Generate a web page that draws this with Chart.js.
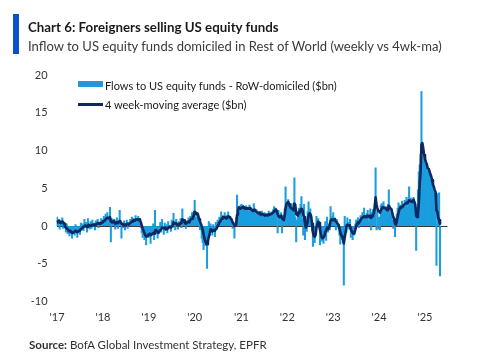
<!DOCTYPE html>
<html><head><meta charset="utf-8">
<script src="https://cdn.jsdelivr.net/npm/chart.js@4.4.1/dist/chart.umd.min.js"></script>
<style>
html,body{margin:0;padding:0;background:#fff;}
#wrap{position:relative;width:480px;height:356px;overflow:hidden;font-family:Lato,"Open Sans",sans-serif;}
#c{position:absolute;left:0;top:0;}
.accent{position:absolute;left:13px;top:14px;width:6px;height:40px;background:#0A52C9;}
.t{position:absolute;white-space:nowrap;transform-origin:left center;}
#title{left:28px;top:18px;font-size:14px;line-height:17px;font-weight:bold;color:#1a1a1a;transform:scaleX(0.95);}
#sub{left:28px;top:38px;font-size:13.5px;line-height:17px;color:#3a3a3a;transform:scaleX(0.965);}
#src{left:29px;top:338px;font-size:11.5px;line-height:14px;color:#333;}
.lg{position:absolute;left:105px;font-size:11px;line-height:13px;color:#1a1a1a;white-space:nowrap;}
.sw1{position:absolute;left:78px;top:81px;width:25px;height:6px;background:#2a92d9;border:0.5px solid #1D9BDB;box-sizing:border-box;}
.sw2{position:absolute;left:78px;top:103px;width:25px;height:2.5px;background:#0C2A61;}
</style></head>
<body>
<div id="wrap">
<canvas id="c" width="480" height="356"></canvas>
<div class="accent"></div>
<div class="t" id="title">Chart 6: Foreigners selling US equity funds</div>
<div class="t" id="sub">Inflow to US equity funds domiciled in Rest of World (weekly vs 4wk-ma)</div>
<div class="sw1"></div><div class="lg" style="top:78.5px">Flows to US equity funds - RoW-domiciled ($bn)</div>
<div class="sw2"></div><div class="lg" style="top:97.5px">4 week-moving average ($bn)</div>
<div class="t" id="src"><b>Source:</b> BofA Global Investment Strategy, EPFR</div>
</div>
<script>
// Weekly flows ($bn)
const flows2017 = [1.2,0.3,0.9,-0.4,0.8,0.5,1.1,-0.3,0.4,
 -0.2,-0.8,0.3,-1.0,-0.5,-1.3,-0.2,-0.9,-1.6,-0.4,-0.7,-1.2,0.2,-0.9,-1.5,-0.6,-0.3,-1.1,0.4,-0.5,
 0.3,-0.6,0.9,-0.2,0.5,-0.8,1.0,0.1,-0.4,0.6,-0.3,0.8,-0.1,0.4,-0.5,
 0.7,0.2,0.9,-0.2,0.5,0.3,1.0,0.4];
const flows2018 = [0.8,1.3,0.5,1.6,0.9,1.8,0.6,1.2,2.5,-2.1,1.0,0.7,
 0.2,0.9,-0.4,0.6,1.1,-0.3,0.5,2.1,0.3,-1.6,
 0.4,-0.2,0.7,-0.5,0.3,0.8,-0.3,0.5,0.1,
 0.9,0.3,1.2,0.6,1.0,0.2,1.4,0.7,0.9,1.3,0.4,0.8,-0.2,
 -0.9,-1.5,-0.4,-1.8,-1.1,-2.5,-0.7,-1.3];
const flows2019 = [-1.5,-0.6,-2.3,-0.9,-1.2,0.3,-1.8,2.1,-1.0,-0.4,-1.6,-0.7,
 -0.3,0.5,-0.8,0.9,-0.2,-1.1,0.4,-0.6,0.2,-0.9,0.6,-0.3,0.1,-0.7,0.8,-0.2,1.7,0.3,-0.5,0.9,0.2,-0.4,0.6,
 0.4,1.0,-0.2,2.3,0.5,0.1,0.9,-0.3,0.7,0.4,1.1,0.2,
 1.3,0.6,1.8,1.2,2.0];
const flows2020 = [3.4,1.2,0.8,1.5,0.3,1.0,
 -0.5,0.4,-1.6,-2.2,-3.1,-1.4,-2.6,-1.9,-5.6,
 -0.8,0.6,-1.3,0.3,-0.7,-1.2,0.2,-0.4,-1.4,0.5,-0.3,0.8,0.1,
 1.2,0.6,1.9,0.9,1.4,0.5,1.8,1.1,0.7,1.5,1.9,0.8,1.3,0.4,1.0,
 -0.3,0.5,-1.6,0.2,1.1,
 4.1,1.6,2.5,2.0,2.8];
const flows2021 = [2.9,2.1,2.6,1.8,2.4,2.7,2.0,2.5,1.9,2.8,2.2,
 1.7,2.3,1.5,3.0,2.0,1.6,2.2,1.4,1.9,1.3,
 1.6,1.2,2.0,1.4,1.1,1.8,1.3,1.7,1.0,1.5,2.0,1.2,1.6,1.9,1.4,
 2.2,2.6,1.8,2.4,1.5,-0.9,2.1,
 1.2,0.6,1.8,-0.9,1.4,0.8,2.3,
 5.2,3.1];
const flows2022 = [2.8,3.5,1.9,2.6,1.4,3.0,2.2,1.6,6.4,1.2,
 -2.1,0.8,1.5,2.4,1.8,2.9,3.9,1.0,
 -1.2,2.9,-1.8,0.6,-0.7,1.9,3.2,1.1,2.3,0.5,-0.6,
 -2.7,-1.5,-2.2,-0.3,1.3,0.4,1.0,-0.2,
 -2.5,-1.4,-2.0,-0.8,-2.3,-1.0,0.6,-1.9,1.2,-0.8,0.3,-0.5,
 2.6,0.7,1.3];
const flows2023 = [1.8,0.2,1.1,-0.5,0.9,0.4,-0.3,
 -1.2,-2.4,-0.9,-1.8,-2.2,-7.8,
 1.3,0.2,-0.8,1.1,0.5,-0.4,0.9,
 -1.5,-0.6,-1.8,-0.9,-1.2,0.3,
 0.8,0.2,1.1,-0.2,0.9,1.4,
 1.0,1.8,0.6,2.4,1.3,0.9,1.7,2.1,0.5,1.5,2.3,-0.5,1.8,
 2.2,1.4,3.0,7.7,-0.5,1.9,-0.4];
const flows2024 = [1.2,-0.5,2.8,3.0,2.1,3.2,2.4,
 1.8,2.6,1.5,2.9,4.8,2.0,1.7,2.3,
 0.8,-0.3,1.2,-1.4,0.5,1.6,
 2.4,3.1,1.9,2.8,2.2,3.3,2.6,2.9,
 3.4,2.7,3.8,2.5,3.6,5.2,3.1,
 3.7,2.9,3.5,3.8,2.6,1.4,-3.2,
 2.5,4.8,7.2,8.1,9.5,17.8,9.2,8.6,9.0];
const flows2025 = [8.2,7.5,8.0,7.1,7.6,6.8,6.2,5.9,5.4,4.6,5.0,4.1,4.4,-5.2,4.3,0.8,4.4,-6.6];

// 4-week moving average ($bn)
const ma2017 = [0.5,0.6,0.7,0.5,0.4,0.5,0.6,0.5,0.3,
 0.0,-0.2,-0.3,-0.4,-0.6,-0.7,-0.6,-0.8,-0.9,-0.8,-0.8,-0.7,-0.6,-0.7,-0.8,-0.7,-0.6,-0.5,-0.4,-0.3,
 -0.2,-0.1,0.0,0.1,0.0,-0.1,0.1,0.2,0.1,0.0,0.1,0.2,0.1,0.2,0.1,
 0.2,0.3,0.4,0.3,0.4,0.3,0.4,0.5];
const ma2018 = [0.6,0.7,0.7,0.9,1.0,1.1,1.1,1.0,1.2,0.6,0.5,0.5,
 0.7,0.6,0.3,0.4,0.5,0.4,0.5,0.7,0.6,0.3,
 0.3,0.1,0.2,0.1,0.1,0.3,0.3,0.2,0.3,
 0.4,0.5,0.6,0.7,0.8,0.7,0.8,0.9,0.9,0.8,0.9,0.8,0.5,
 0.1,-0.3,-0.6,-0.9,-1.2,-1.4,-1.3,-1.2];
const ma2019 = [-1.1,-1.0,-1.2,-1.1,-1.0,-0.9,-1.0,-0.6,-0.5,-0.6,-0.8,-0.9,
 -0.7,-0.5,-0.4,-0.2,-0.2,-0.3,-0.2,-0.4,-0.3,-0.4,-0.2,-0.1,-0.1,-0.2,0.0,0.1,0.5,0.4,0.3,0.4,0.2,0.1,0.3,
 0.2,0.4,0.4,0.9,0.8,0.7,0.4,0.3,0.4,0.5,0.6,0.5,
 0.8,0.9,1.0,1.2,1.4];
const ma2020 = [1.9,1.8,1.6,1.7,1.4,0.9,
 0.6,0.3,0.0,-0.5,-1.0,-1.6,-2.0,-2.3,-2.4,
 -2.0,-1.4,-0.9,-0.4,-0.6,-0.7,-0.5,-0.6,-0.5,-0.4,-0.3,0.0,0.2,
 0.5,0.6,0.9,1.0,1.2,1.1,1.2,1.1,1.0,1.2,1.3,1.2,1.1,1.0,0.8,
 0.5,0.3,0.0,0.1,0.2,
 1.5,2.1,2.5,2.4,2.3];
const ma2021 = [2.4,2.5,2.6,2.4,2.3,2.4,2.3,2.4,2.3,2.3,2.4,
 2.2,2.1,2.0,2.1,2.2,2.0,1.9,1.8,1.7,1.8,
 1.6,1.5,1.6,1.6,1.5,1.4,1.5,1.4,1.4,1.5,1.6,1.5,1.6,1.6,1.7,
 1.8,2.0,2.1,2.2,2.0,1.6,1.3,
 1.2,1.3,1.4,1.0,1.0,0.8,1.4,
 2.4,2.9];
const ma2022 = [3.1,3.2,2.9,2.6,2.4,2.3,2.3,2.1,3.0,2.8,
 1.6,1.5,1.4,1.9,1.8,2.2,2.3,2.2,
 1.5,1.2,0.4,-0.2,0.1,0.6,1.4,1.7,1.6,1.3,0.3,
 -0.8,-1.3,-1.4,-1.2,-0.2,0.3,0.6,0.4,
 -0.5,-1.0,-1.5,-1.6,-1.5,-1.3,-0.8,-0.6,-0.2,-0.4,-0.3,0.1,
 0.7,0.9,0.8];
const ma2023 = [0.8,0.9,0.8,0.6,0.5,0.3,0.2,
 -0.3,-0.8,-1.2,-1.4,-1.6,-2.3,
 -1.5,-0.8,0.0,0.2,0.1,0.1,0.0,
 -0.4,-0.7,-0.9,-1.0,-0.9,-0.5,
 0.0,0.3,0.5,0.4,0.6,0.8,
 1.0,1.1,1.2,1.3,1.2,1.3,1.2,1.4,1.3,1.2,1.4,1.1,1.3,
 1.5,1.7,2.4,3.8,2.9,2.4,2.0];
const ma2024 = [2.0,1.8,2.1,2.3,2.5,2.5,2.4,
 2.4,2.3,2.1,2.2,2.7,2.5,2.3,2.2,
 1.7,1.2,0.9,0.3,0.2,0.6,
 1.2,1.8,2.2,2.5,2.4,2.6,2.7,2.8,
 2.9,3.0,3.1,3.0,3.2,3.4,3.3,
 3.3,3.2,3.3,3.5,3.2,2.8,1.4,
 1.2,1.6,3.0,5.6,7.2,10.8,11.0,10.3,9.4];
const ma2025 = [8.9,8.5,8.2,7.7,7.6,7.3,6.9,6.6,6.1,5.5,5.2,4.8,4.5,2.1,1.9,1.1,0.8,0.3];

const flows = [].concat(flows2017,flows2018,flows2019,flows2020,flows2021,flows2022,flows2023,flows2024,flows2025);
const ma = [].concat(ma2017,ma2018,ma2019,ma2020,ma2021,ma2022,ma2023,ma2024,ma2025);

// Weekly category labels (first Wednesday 2017-01-04), axis extends a few weeks past the data
const startDate = Date.UTC(2017,0,4);
const nWeeks = 443;
const weeks = [];
for (let i = 0; i < nWeeks; i++) {
  const d = new Date(startDate + i*7*86400000);
  weeks.push(d.toISOString().slice(0,10));
}
const yTicks = [-10,-5,0,5,10,15,20];

new Chart(document.getElementById('c'), {
  type: 'bar',
  data: {
    labels: weeks,
    datasets: [
      {type:'line', label:'4 week-moving average ($bn)', data: ma, borderColor:'#0C2A61', borderWidth:2.6,
       pointRadius:0, tension:0, fill:false, order:0, borderJoinStyle:'round'},
      {type:'bar', label:'Flows to US equity funds - RoW-domiciled ($bn)', data: flows, backgroundColor:'#1A9EDF',
       borderWidth:0, barThickness:1.4, order:1}
    ]
  },
  options: {
    responsive:false, animation:false, devicePixelRatio:1,
    layout:{padding:{top:75,left:0,right:32.5,bottom:30.3}},
    plugins:{legend:{display:false}, tooltip:{enabled:false}, title:{display:false}},
    scales:{
      x:{type:'category', offset:true,
         grid:{display:false, drawTicks:false}, border:{display:false},
         ticks:{autoSkip:false, maxRotation:0, minRotation:0, padding:9, color:'#333',
           font:{size:11, family:'Lato'},
           callback:function(v, i){
             const l = weeks[i];
             if (i === 0 || l.slice(0,4) !== weeks[i-1].slice(0,4)) return "'" + l.slice(2,4);
             return '';
           }},
         afterFit:function(s){ s.height = 24; }},
      y:{min:-10, max:20,
         afterBuildTicks:function(s){ s.ticks = yTicks.map(v => ({value:v})); },
         ticks:{padding:9, color:'#333', font:{size:11, family:'Lato'}},
         grid:{drawTicks:false, lineWidth:1,
           color:function(c){ return (c.tick && c.tick.value === 0) ? '#3a3a3a' : 'rgba(0,0,0,0)'; }},
         border:{display:false},
         afterFit:function(s){ s.width = 56.6; }}
    }
  }
});
</script>
</body></html>
